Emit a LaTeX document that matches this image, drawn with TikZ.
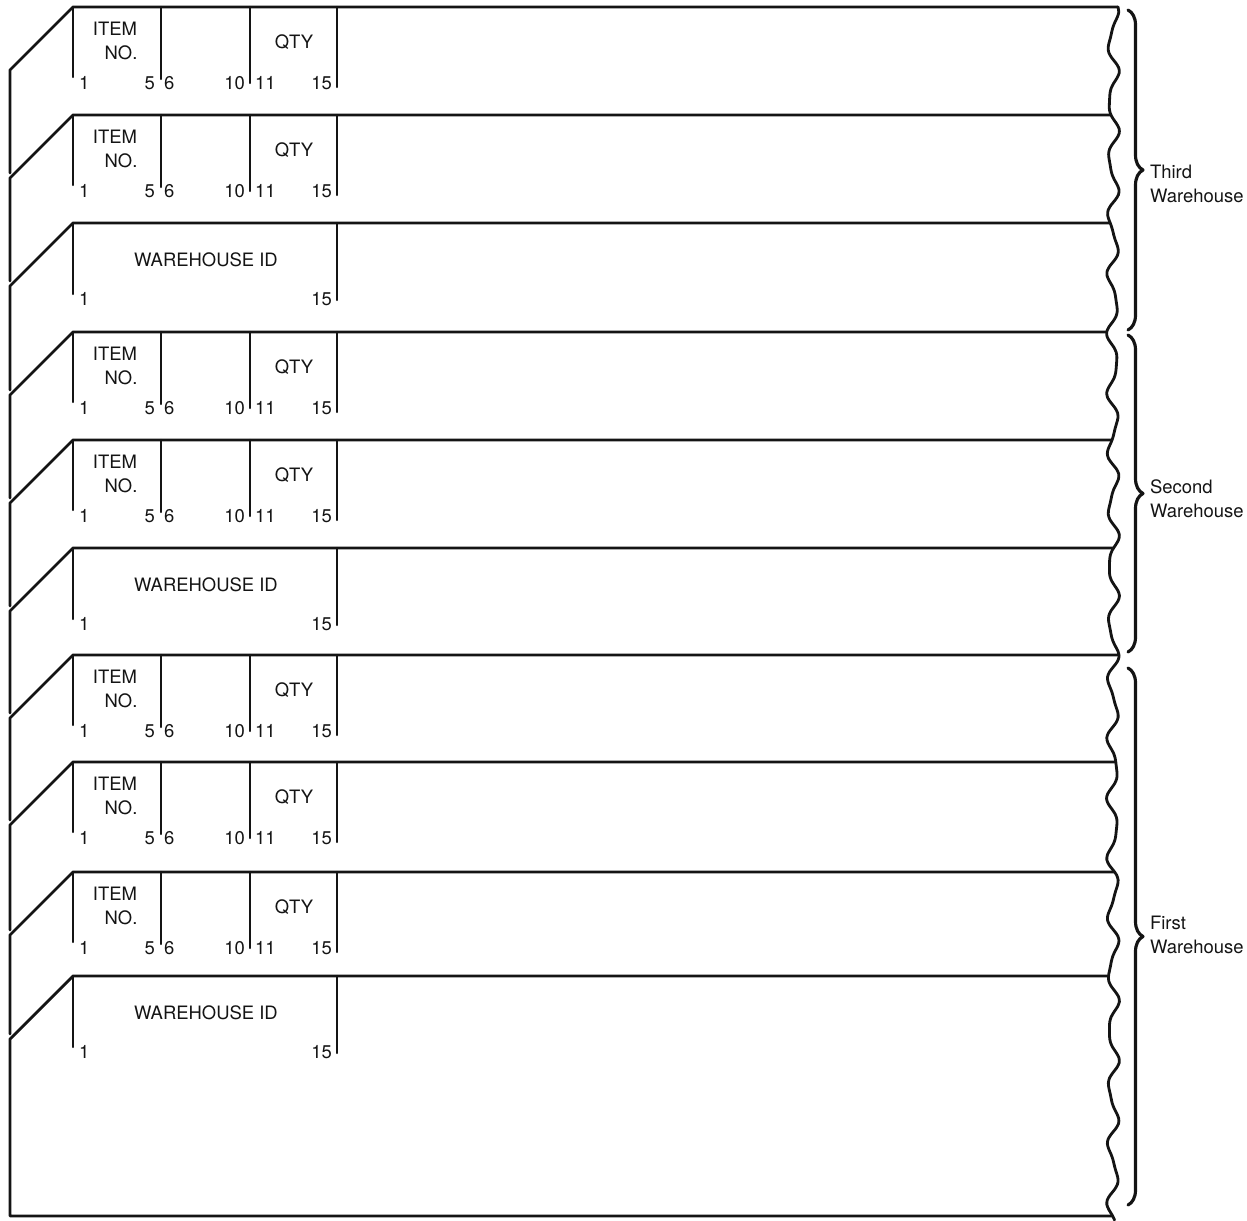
\documentclass[tikz,border=0pt]{standalone}
\usepackage{fontspec}
\setmainfont{TeX Gyre Heros}
\usepackage{xcolor}
\usepackage{tikz}
\usetikzlibrary{decorations.pathreplacing, calc}
\definecolor{ink}{RGB}{20, 20, 20}
% x position of the torn right edge at height #1
\newcommand{\wavex}[1]{1113+5*sin(6.2*(#1))+1.5*sin(11.613*mod(#1,31))}

\begin{document}
\begin{tikzpicture}[x=0.02cm, y=-0.02cm, line cap=round, line join=round,
    every node/.style={font=\fontsize{10.5}{13.5}\selectfont, text=ink, inner sep=1pt},
    edge/.style={draw=ink, line width=1.6pt},
    tick/.style={draw=ink, line width=1.2pt},
    wbrace/.style={draw=ink, line width=1.8pt, decorate, decoration={brace, amplitude=0.3cm}}]
  \useasboundingbox (0,0) rectangle (1247,1220);

  % card outlines, back to front
  \foreach \t/\n in {7/115, 115/223, 223/332, 332/440, 440/548, 548/655, 655/762, 762/872, 872/976}{
    \draw[edge] ({\wavex{\t}},\t) -- (73,\t) -- (10,\t+63) -- (10,\n+58);
  }
  \draw[edge] ({\wavex{976}},976) -- (73,976) -- (10,1039) -- (10,1216) -- ({\wavex{1216}},1216);

  % torn right edge
  \draw[edge] plot[smooth, variable=\s, domain=7:1220, samples=240] ({\wavex{\s}},\s);

  % item cards
  \foreach \t in {7, 115, 332, 440, 655, 762, 872}{
    \draw[tick] (73,\t) -- +(0,70);
    \draw[tick] (161,\t) -- +(0,72);
    \draw[tick] (250,\t) -- +(0,76);
    \draw[tick] (337,\t) -- +(0,80);
    \node (item\t) at (115,\t+22) {ITEM};
    \node (no\t) at (121,\t+46) {NO.};
    \node (qty\t) at (294,\t+35) {QTY};
    \node[anchor=west] (ca\t) at (77,\t+76) {1};
    \node[anchor=east] (cb\t) at (157,\t+76) {5};
    \node[anchor=west] (cc\t) at (162,\t+76) {6};
    \node[anchor=east] (cd\t) at (247,\t+76) {10};
    \node[anchor=west] (ce\t) at (253,\t+76) {11};
    \node[anchor=east] (cf\t) at (334,\t+76) {15};
  }

  % warehouse id cards
  \foreach \t in {223, 548, 976}{
    \draw[tick] (73,\t) -- +(0,71);
    \draw[tick] (337,\t) -- +(0,77);
    \node (wid\t) at (206,\t+37) {WAREHOUSE ID};
    \node[anchor=west] (wa\t) at (77,\t+76) {1};
    \node[anchor=east] (wb\t) at (334,\t+76) {15};
  }

  % groups
  \draw[wbrace] (1128,10) -- (1128,330);
  \node[anchor=west, align=left] (third) at (1148,184) {Third\\Warehouse};
  \draw[wbrace] (1128,335) -- (1128,652);
  \node[anchor=west, align=left] (second) at (1148,499) {Second\\Warehouse};
  \draw[wbrace] (1128,668) -- (1128,1205);
  \node[anchor=west, align=left] (first) at (1148,935) {First\\Warehouse};
\end{tikzpicture}
\end{document}
